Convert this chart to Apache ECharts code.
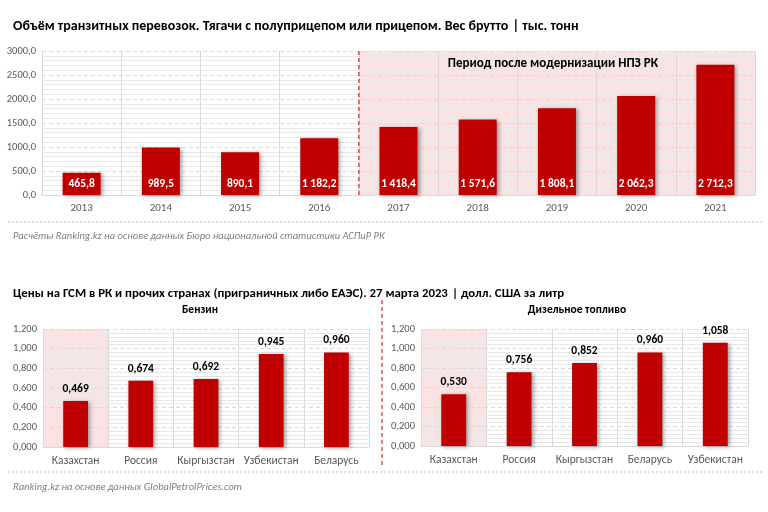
<!DOCTYPE html>
<html><head><meta charset="utf-8">
<script src="https://cdn.jsdelivr.net/npm/echarts@6/dist/echarts.min.js"></script>
<style>html,body{margin:0;padding:0;background:#fff}#c{width:768px;height:512px}</style>
</head><body><div id="c"></div>
<script>
const years = ['2013','2014','2015','2016','2017','2018','2019','2020','2021'];
const transit = [465.8, 989.5, 890.1, 1182.2, 1418.4, 1571.6, 1808.1, 2062.3, 2712.3];
const modernShade = [null, null, null, null, 3000, 3000, 3000, 3000, 3000];
const petrolCountries = ['Казахстан','Россия','Кыргызстан','Узбекистан','Беларусь'];
const petrolPrices = [0.469, 0.674, 0.692, 0.945, 0.960];
const dieselCountries = ['Казахстан','Россия','Кыргызстан','Беларусь','Узбекистан'];
const dieselPrices = [0.530, 0.756, 0.852, 0.960, 1.058];
const kzShade = [1.2, null, null, null, null];

const FONT = "Carlito, 'Open Sans', sans-serif";
const RED = '#c00000';
const PINK = '#fbe3e3';
const GRID = '#d9d9d9';
const LBL = '#595959';

function fmt1(v){ const s = v.toFixed(1).split('.'); return s[0].replace(/\B(?=(\d{3})+(?!\d))/g,' ') + ',' + s[1]; }
function fmtAxis1(v){ return v.toFixed(1).replace('.',','); }
function fmt3(v){ return v.toFixed(3).replace('.',','); }

const chart = echarts.init(document.getElementById('c'), null, {renderer:'canvas'});

function catAxis(gridIndex, data, show, fs){
  return {
    type:'category', gridIndex, data, show,
    axisLine:{show:true, lineStyle:{color:GRID}}, axisTick:{show:false},
    axisLabel:{color:LBL, fontSize:fs, fontFamily:FONT, margin:8, interval:0},
    splitLine:{show:true, lineStyle:{color:GRID, width:1}}
  };
}
function hiddenCat(gridIndex, data){
  return {type:'category', gridIndex, data, show:false};
}
function valAxis(gridIndex, max, interval, fmt){
  return {
    type:'value', gridIndex, min:0, max, interval,
    axisLine:{show:false}, axisTick:{show:false},
    axisLabel:{color:LBL, fontSize:10.5, fontFamily:FONT, margin:6, formatter:fmt},
    splitLine:{show:true, lineStyle:{color:GRID, type:[4,3]}},
    minorTick:{show:false, splitNumber:5},
    minorSplitLine:{show:true, lineStyle:{color:'#e9e9e9'}}
  };
}
const shadow = {shadowBlur:4, shadowColor:'rgba(0,0,0,0.35)', shadowOffsetX:2, shadowOffsetY:1};

chart.setOption({
  animation:false,
  textStyle:{fontFamily:FONT},
  title:[
    {left:8, top:12, text:'{b|Объём транзитных перевозок. Тягачи с полуприцепом или прицепом. Вес брутто} {n|| тыс. тонн}',
      textStyle:{rich:{b:{fontWeight:'bold', fontSize:14, color:'#000', fontFamily:FONT}, n:{fontSize:14, color:'#000', fontFamily:FONT}}}},
    {left:8, top:280, text:'{b|Цены на ГСМ в РК и прочих странах (приграничных либо ЕАЭС). 27 марта 2023} {n|| долл. США за литр}',
      textStyle:{rich:{b:{fontWeight:'bold', fontSize:12.8, color:'#000', fontFamily:FONT}, n:{fontSize:12.8, color:'#000', fontFamily:FONT}}}},
    {left:195, textAlign:'center', top:299, text:'Бензин', textStyle:{fontWeight:'bold', fontSize:11.5, color:'#000', fontFamily:FONT}},
    {left:572, textAlign:'center', top:299, text:'Дизельное топливо', textStyle:{fontWeight:'bold', fontSize:11.5, color:'#000', fontFamily:FONT}},
    {left:8, top:226, text:'Расчёты Ranking.kz на основе данных Бюро национальной статистики АСПиР РК', textStyle:{fontStyle:'italic', fontWeight:'normal', fontSize:10.5, color:'#7f7f7f', fontFamily:FONT}},
    {left:8, top:477, text:'Ranking.kz на основе данных GlobalPetrolPrices.com', textStyle:{fontStyle:'italic', fontWeight:'normal', fontSize:10.5, color:'#7f7f7f', fontFamily:FONT}}
  ],
  grid:[
    {left:42, right:13, top:51, bottom:317},
    {left:43, right:399, top:329, bottom:65},
    {left:421, right:20, top:329, bottom:66}
  ],
  xAxis:[
    catAxis(0, years, true, 11), hiddenCat(0, years),
    catAxis(1, petrolCountries, true, 11.5), hiddenCat(1, petrolCountries),
    catAxis(2, dieselCountries, true, 11.5), hiddenCat(2, dieselCountries)
  ],
  yAxis:[
    valAxis(0, 3000, 500, fmtAxis1),
    valAxis(1, 1.2, 0.2, fmt3),
    valAxis(2, 1.2, 0.2, fmt3)
  ],
  series:[
    {type:'bar', xAxisIndex:1, yAxisIndex:0, data:modernShade, barWidth:'100%', z:-1, silent:true, itemStyle:{color:PINK}},
    {type:'bar', xAxisIndex:0, yAxisIndex:0, data:transit, barWidth:'48%', itemStyle:Object.assign({color:RED}, shadow),
      label:{show:true, position:'insideBottom', distance:5, color:'#fff', fontWeight:'bold', fontSize:11.5, fontFamily:FONT, formatter:p=>fmt1(p.value)}},
    {type:'bar', xAxisIndex:3, yAxisIndex:1, data:kzShade, barWidth:'100%', z:-1, silent:true, itemStyle:{color:PINK}},
    {type:'bar', xAxisIndex:2, yAxisIndex:1, data:petrolPrices, barWidth:'38%', itemStyle:Object.assign({color:RED}, shadow),
      label:{show:true, position:'top', distance:6, color:'#000', fontWeight:'bold', fontSize:11.5, fontFamily:FONT, formatter:p=>fmt3(p.value)}},
    {type:'bar', xAxisIndex:5, yAxisIndex:2, data:kzShade, barWidth:'100%', z:-1, silent:true, itemStyle:{color:PINK}},
    {type:'bar', xAxisIndex:4, yAxisIndex:2, data:dieselPrices, barWidth:'38%', itemStyle:Object.assign({color:RED}, shadow),
      label:{show:true, position:'top', distance:6, color:'#000', fontWeight:'bold', fontSize:11.5, fontFamily:FONT, formatter:p=>fmt3(p.value)}}
  ]
});

// decorations positioned via the library's scales
const x2016 = chart.convertToPixel({xAxisIndex:0}, '2016');
const x2017 = chart.convertToPixel({xAxisIndex:0}, '2017');
const xSep = (x2016 + x2017) / 2;
const yTop = chart.convertToPixel({yAxisIndex:0}, 3000);
const yBot = chart.convertToPixel({yAxisIndex:0}, 0);
const xAnn = chart.convertToPixel({xAxisIndex:0}, '2019') - 4;
const yAnn = chart.convertToPixel({yAxisIndex:0}, 2730);
chart.setOption({
  graphic:[
    {type:'line', shape:{x1:xSep, y1:yTop, x2:xSep, y2:yBot}, style:{stroke:RED, lineWidth:1, lineDash:[4,3]}, z:10},
    {type:'text', x:xAnn, y:yAnn, style:{text:'Период после модернизации НПЗ РК', fill:'#000', font:"bold 13px " + FONT, textAlign:'center', textVerticalAlign:'middle'}, z:10},
    {type:'line', shape:{x1:382, y1:300, x2:382, y2:466}, style:{stroke:RED, lineWidth:1, lineDash:[4,3]}},
    {type:'line', shape:{x1:8, y1:222, x2:762, y2:222}, style:{stroke:'#bfbfbf', lineWidth:1, lineDash:[2,2]}},
    {type:'line', shape:{x1:8, y1:472, x2:762, y2:472}, style:{stroke:'#bfbfbf', lineWidth:1, lineDash:[2,2]}}
  ]
});
</script></body></html>
